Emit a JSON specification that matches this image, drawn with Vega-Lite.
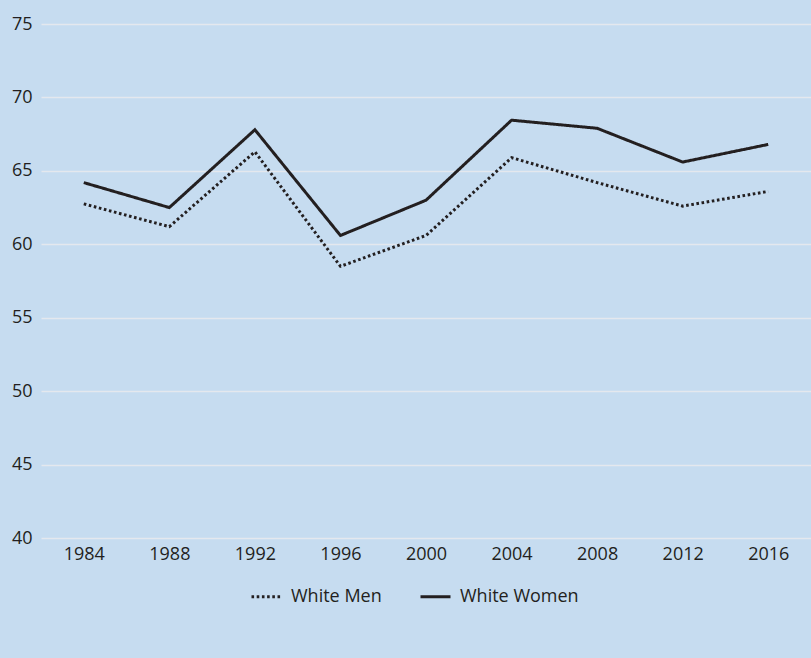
{
  "$schema": "https://vega.github.io/schema/vega-lite/v6.json",
  "width": 770,
  "height": 514,
  "autosize": {"type": "none"},
  "padding": {"left": 41, "top": 24, "right": 0, "bottom": 120},
  "background": "#c6dcf0",
  "config": {
    "view": {"stroke": null},
    "font": "Open Sans, sans-serif",
    "axis": {"labelFont": "Open Sans, sans-serif", "labelColor": "#231f20", "labelFontSize": 18},
    "legend": {"labelFont": "Open Sans, sans-serif", "labelColor": "#231f20", "labelFontSize": 18}
  },
  "data": {
    "values": [
      {"year": "1984", "series": "White Men", "value": 62.75},
      {"year": "1988", "series": "White Men", "value": 61.2},
      {"year": "1992", "series": "White Men", "value": 66.3},
      {"year": "1996", "series": "White Men", "value": 58.5},
      {"year": "2000", "series": "White Men", "value": 60.6},
      {"year": "2004", "series": "White Men", "value": 65.9},
      {"year": "2008", "series": "White Men", "value": 64.2},
      {"year": "2012", "series": "White Men", "value": 62.6},
      {"year": "2016", "series": "White Men", "value": 63.6},
      {"year": "1984", "series": "White Women", "value": 64.2},
      {"year": "1988", "series": "White Women", "value": 62.5},
      {"year": "1992", "series": "White Women", "value": 67.8},
      {"year": "1996", "series": "White Women", "value": 60.6},
      {"year": "2000", "series": "White Women", "value": 63.0},
      {"year": "2004", "series": "White Women", "value": 68.45},
      {"year": "2008", "series": "White Women", "value": 67.9},
      {"year": "2012", "series": "White Women", "value": 65.6},
      {"year": "2016", "series": "White Women", "value": 66.8}
    ]
  },
  "mark": {"type": "line", "color": "#231f20", "strokeWidth": 3},
  "encoding": {
    "x": {
      "field": "year", "type": "ordinal",
      "scale": {"paddingInner": 0, "paddingOuter": 0.5},
      "axis": {"title": null, "labelAngle": 0, "domain": false, "ticks": false, "grid": false, "labelPadding": 7}
    },
    "y": {
      "field": "value", "type": "quantitative",
      "scale": {"domain": [40, 75], "nice": false, "zero": false},
      "axis": {"title": null, "values": [40, 45, 50, 55, 60, 65, 70, 75], "domain": false, "ticks": false, "grid": true, "gridColor": "#e4e8ee", "gridWidth": 1.5, "labelPadding": 9}
    },
    "strokeDash": {
      "field": "series", "type": "nominal",
      "scale": {"domain": ["White Men", "White Women"], "range": [[2.6, 2.6], [1, 0]]},
      "legend": {
        "title": null, "orient": "none", "legendX": 209, "legendY": 556, "direction": "horizontal",
        "symbolType": "stroke", "symbolSize": 900, "symbolStrokeWidth": 3, "symbolStrokeColor": "#231f20",
        "columnPadding": 32, "labelOffset": 8
      }
    }
  }
}
